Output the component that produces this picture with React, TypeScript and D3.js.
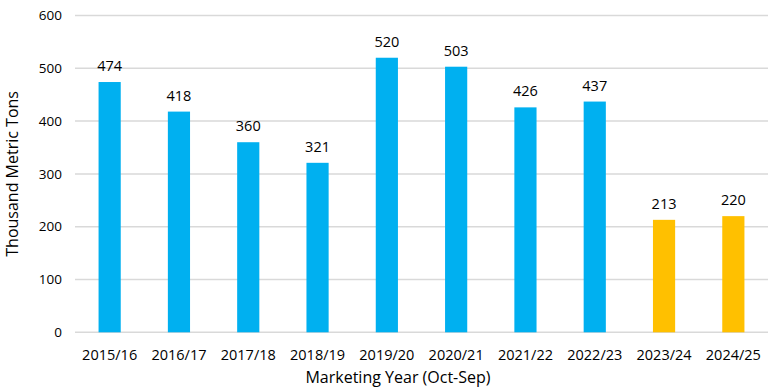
import React from "react";
import * as d3 from "d3";

const categories = ["2015/16","2016/17","2017/18","2018/19","2019/20","2020/21","2021/22","2022/23","2023/24","2024/25"];
const values = [474, 418, 360, 321, 520, 503, 426, 437, 213, 220];
const forecast = [false, false, false, false, false, false, false, false, true, true];
const yTicks = [0, 100, 200, 300, 400, 500, 600];

const W = 776, H = 389;
const M = { left: 75, right: 8, top: 15.5, bottom: 56.7 };
const FONT = "'Open Sans', 'Noto Sans', sans-serif";

export default function App() {
  const x = d3.scaleBand().domain(categories).range([M.left, W - M.right]).paddingInner(0.68).paddingOuter(0.34);
  const y = d3.scaleLinear().domain([0, 600]).range([H - M.bottom, M.top]);
  return (
    <svg width={W} height={H} style={{ position: "absolute", left: 0, top: 0, background: "#fff" }} fontFamily={FONT}>
      {yTicks.map(t => (
        <g key={t}>
          <line x1={M.left} x2={W - M.right} y1={y(t)} y2={y(t)} stroke="#d9d9d9" strokeWidth={1.5} />
          <text x={62} y={y(t)} dy="0.35em" textAnchor="end" fontSize={13.5} fill="#000">{t}</text>
        </g>
      ))}
      {categories.map((c, i) => (
        <g key={c}>
          <rect x={x(c)} y={y(values[i])} width={x.bandwidth()} height={y(0) - y(values[i])} fill={forecast[i] ? "#FFC000" : "#00B0F0"} />
          <text x={x(c)! + x.bandwidth() / 2} y={y(values[i]) - 11} textAnchor="middle" fontSize={14.5} fill="#000">{values[i]}</text>
          <text x={x(c)! + x.bandwidth() / 2} y={360} textAnchor="middle" fontSize={14.5} fill="#000">{c}</text>
        </g>
      ))}
      <text transform={`translate(18,${(y(0) + y(600)) / 2}) rotate(-90)`} textAnchor="middle" fontSize={16} fill="#000">Thousand Metric Tons</text>
      <text x={398} y={383} textAnchor="middle" fontSize={16} fill="#000">Marketing Year (Oct-Sep)</text>
    </svg>
  );
}
